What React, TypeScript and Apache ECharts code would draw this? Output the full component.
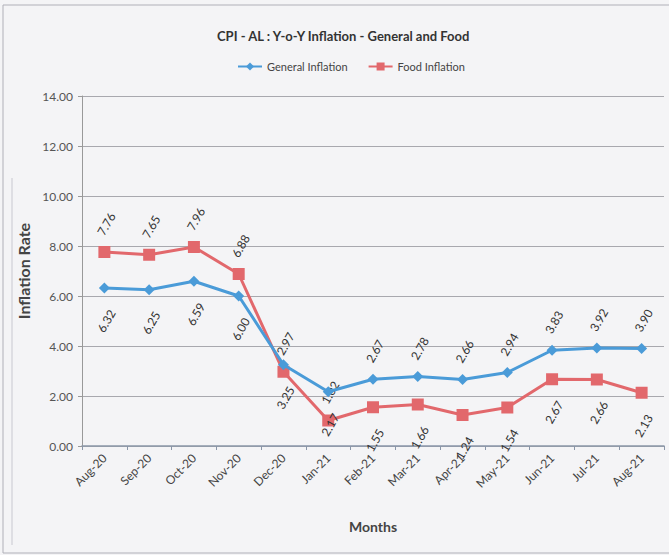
import React, { useEffect, useRef } from "react";
import * as echarts from "echarts";

const months = ["Aug-20", "Sep-20", "Oct-20", "Nov-20", "Dec-20", "Jan-21", "Feb-21", "Mar-21", "Apr-21", "May-21", "Jun-21", "Jul-21", "Aug-21"];
const generalInflation = [6.32, 6.25, 6.59, 6.0, 3.25, 2.17, 2.67, 2.78, 2.66, 2.94, 3.83, 3.92, 3.9];
const foodInflation = [7.76, 7.65, 7.96, 6.88, 2.97, 1.02, 1.55, 1.66, 1.24, 1.54, 2.67, 2.66, 2.13];
// label placement: true = above the point
const generalAbove = [false, false, false, false, false, false, true, true, true, true, true, true, true];
const foodAbove = [true, true, true, true, true, true, false, false, false, false, false, false, false];
const yTicks = [0, 2, 4, 6, 8, 10, 12, 14];

const BLUE = "#4a9bd8";
const RED = "#e2686c";
const FONT = "Lato, 'Open Sans', sans-serif";

function makeData(values: number[], above: boolean[], size: number) {
  return values.map((v, i) => ({
    value: v,
    label: {
      position: [size / 2 + 2, size / 2 + (above[i] ? -28 : 33)],
    },
  }));
}

export default function App() {
  const ref = useRef<HTMLDivElement>(null);
  useEffect(() => {
    if (!ref.current) return;
    const chart = echarts.init(ref.current, null, { renderer: "svg" });
    const labelBase = {
      show: true,
      rotate: 60,
      align: "center",
      verticalAlign: "middle",
      fontSize: 12,
      color: "#333",
      fontFamily: FONT,
      formatter: (p: any) => Number(p.value).toFixed(2),
    };
    chart.setOption({
      animation: false,
      backgroundColor: "#f4f4f6",
      title: {
        text: "CPI - AL : Y-o-Y Inflation - General and Food",
        left: 212,
        top: 24,
        textStyle: { fontFamily: FONT, fontSize: 13, fontWeight: "bold", color: "#333" },
      },
      legend: {
        top: 56,
        left: 232,
        itemWidth: 24,
        itemHeight: 10,
        itemGap: 20,
        textStyle: { fontFamily: FONT, fontSize: 11, color: "#444" },
        data: ["General Inflation", "Food Inflation"],
      },
      grid: { left: 82, right: 5, top: 96, bottom: 109 },
      xAxis: {
        type: "category",
        data: months,
        boundaryGap: true,
        name: "Months",
        nameLocation: "middle",
        nameGap: 73,
        nameTextStyle: { fontFamily: FONT, fontSize: 14, fontWeight: "bold", color: "#444" },
        axisLine: { lineStyle: { color: "#8a96a8", width: 1.5 } },
        axisTick: { show: true, length: 4, lineStyle: { color: "#8a96a8" } },
        axisLabel: { rotate: 45, margin: 10, fontFamily: FONT, fontSize: 12, color: "#444" },
      },
      yAxis: {
        type: "value",
        min: 0,
        max: 14,
        interval: 2,
        name: "Inflation Rate",
        nameLocation: "middle",
        nameGap: 42,
        nameTextStyle: { fontFamily: FONT, fontSize: 16, fontWeight: "bold", color: "#444" },
        axisLine: { show: true, lineStyle: { color: "#999" } },
        axisTick: { show: true, length: 4, lineStyle: { color: "#999" } },
        axisLabel: {
          fontFamily: FONT,
          fontSize: 12,
          color: "#555",
          margin: 9,
          formatter: (v: number) => (yTicks.includes(v) ? v.toFixed(2) : ""),
        },
        splitLine: { show: true, lineStyle: { color: "#a8a8ae", width: 1 } },
      },
      series: [
        {
          name: "General Inflation",
          type: "line",
          data: makeData(generalInflation, generalAbove, 11),
          symbol: "diamond",
          symbolSize: 11,
          color: BLUE,
          lineStyle: { width: 3, color: BLUE },
          itemStyle: { color: BLUE },
          label: labelBase,
          z: 3,
        },
        {
          name: "Food Inflation",
          type: "line",
          data: makeData(foodInflation, foodAbove, 12),
          symbol: "rect",
          symbolSize: 12,
          color: RED,
          lineStyle: { width: 3, color: RED },
          itemStyle: { color: RED },
          label: labelBase,
          z: 2,
        },
      ],
      graphic: [
        {
          type: "rect",
          shape: { x: 3, y: 5, width: 670, height: 548 },
          style: { fill: "none", stroke: "#b0b0b8", lineWidth: 1 },
          silent: true,
        },
        {
          type: "line",
          shape: { x1: 12, y1: 178, x2: 12, y2: 545 },
          style: { stroke: "#c8c8d0", lineWidth: 1 },
          silent: true,
        },
      ],
    });
    return () => chart.dispose();
  }, []);
  return <div ref={ref} style={{ width: 669, height: 555, position: "absolute", left: 0, top: 0 }} />;
}
